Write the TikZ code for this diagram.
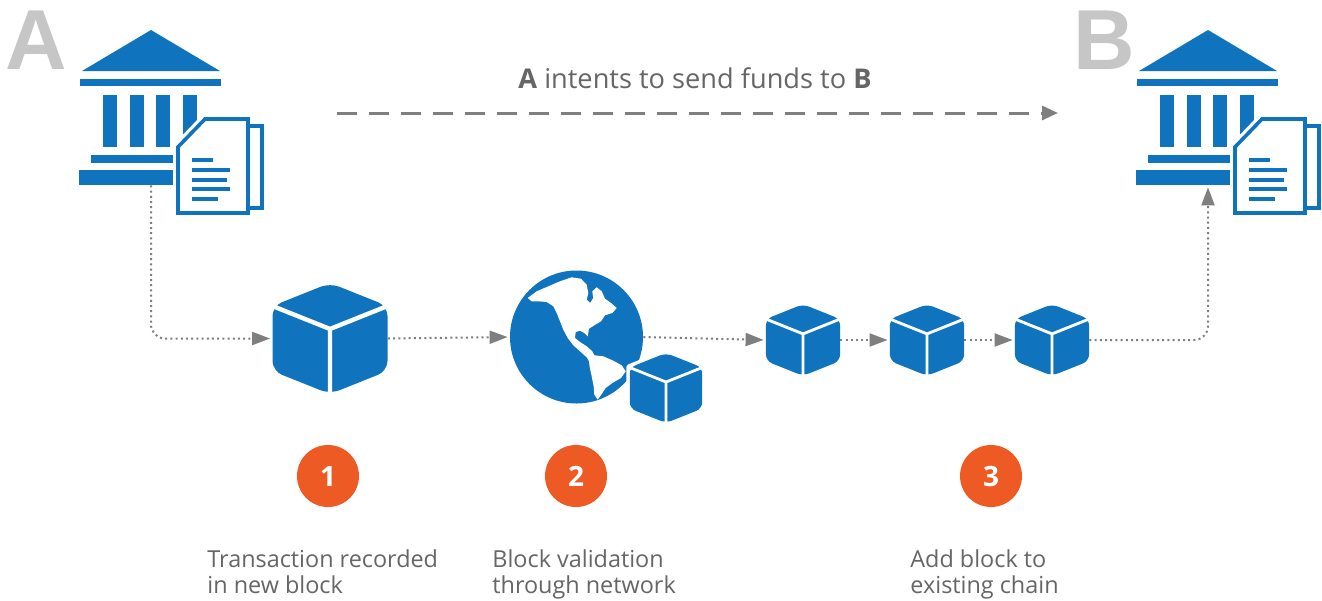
\documentclass[tikz,border=0pt]{standalone}
\usepackage{fontspec}
\setmainfont{Open Sans}
\newfontfamily\letterfont{Liberation Sans}
\usetikzlibrary{arrows.meta}
\definecolor{bankblue}{HTML}{0F74BD}
\definecolor{stepor}{HTML}{EE5A24}
\definecolor{flowgray}{HTML}{7F7F7F}
\definecolor{notegray}{HTML}{666666}
\definecolor{lettergray}{HTML}{C6C6C6}
\tikzset{
  pics/bank/.style={code={
    \fill[bankblue] (-69,41) -- (0,0) -- (69,41) -- cycle;
    \fill[bankblue] (-71,49) rectangle (70,56);
    \foreach \c in {-48,-21.3,5.3,32} {
      \fill[bankblue] (\c,65) rectangle ++(14,52);
    }
    \fill[bankblue] (-60,125) rectangle (60,133);
    \fill[bankblue] (-72,140) rectangle (70,155);
    \draw[white, fill=white, line width=5pt] (54,89) -- (97,89) -- (97,183) -- (27,183) -- (27,117) -- cycle;
    \draw[bankblue, line width=1.8pt] (97,96) -- (111,96) -- (111,178) -- (97,178);
    \draw[bankblue, line width=1.8pt] (54,89) -- (97,89) -- (97,183) -- (27,183) -- (27,117) -- cycle;
    \foreach \l/\e in {130/62,140/79,150/76,159/79,169/67} {
      \draw[bankblue, line width=2pt] (41,\l) -- (\e,\l);
    }
  }},
  pics/block/.style={code={
    \begin{scope}[scale=#1]
      \fill[bankblue, rounded corners=#1*5pt] (0,-55.5) -- (57.5,-32.5) -- (57.5,32.5) -- (0,55.5) -- (-57.5,32.5) -- (-57.5,-32.5) -- cycle;
      \draw[white, line width=#1*2.2pt] (-57.5,-32.5) -- (0,-9.5) -- (57.5,-32.5) (0,-9.5) -- (0,55.5);
    \end{scope}
  }},
  pics/blockhalo/.style={code={
    \begin{scope}[scale=#1]
      \draw[white, fill=white, line width=3.5pt, line join=round] (0,-55.5) -- (57.5,-32.5) -- (57.5,32.5) -- (0,55.5) -- (-57.5,32.5) -- (-57.5,-32.5) -- cycle;
    \end{scope}
  }}
}
\begin{document}
\begin{tikzpicture}[x=0.5pt, y=-0.5pt,
    flow/.style={draw=flowgray, line width=1pt, dash pattern=on 1pt off 1.6pt, rounded corners=7pt, shorten >=1pt, -{Triangle[length=9pt,width=6.5pt]}},
    send/.style={draw=flowgray, line width=1.5pt, dash pattern=on 10pt off 6pt, -{Triangle[length=8pt,width=7pt]}},
    bankbox/.style={inner sep=0, minimum width=71pt, minimum height=77.5pt},
    bigbox/.style={inner sep=0, minimum width=57.5pt, minimum height=55.5pt},
    chainbox/.style={inner sep=0, minimum width=37pt, minimum height=36pt},
    stepnum/.style={circle, fill=stepor, text=white, inner sep=0, minimum size=31pt, font=\fontsize{14}{14}\selectfont\bfseries},
    stepnote/.style={anchor=north west, inner sep=0, align=left, text=notegray, font=\fontsize{11.7}{13}\selectfont},
    bankletter/.style={inner sep=0, text=lettergray, font=\letterfont\bfseries\fontsize{42.6}{42.6}\selectfont}]
  \fill[white] (0,0) rectangle (1322,600);
  \useasboundingbox (0,0) rectangle (1322,600);

  \pic at (151,30) {bank};
  \pic at (1208,30) {bank};
  \node[bankbox] (bankA) at (151,107.5) {};
  \node[bankbox] (bankB) at (1208,107.5) {};
  \node[bankletter] (letA) at (36.5,40.5) {A};
  \node[bankletter] (letB) at (1104.5,40.5) {B};

  \node[anchor=base, inner sep=0, text=notegray, font=\fontsize{13.6}{15}\selectfont] (intent) at (695,88) {\textbf{A} intents to send funds to \textbf{B}};
  \coordinate (sendfrom) at (337,113);
  \coordinate (sendto) at (1058,113);
  \draw[send] (sendfrom) -- (sendto);

  \node[bigbox] (blk1) at (330,338.5) {};
  \pic at (blk1) {block=1};

  \node[circle, fill=bankblue, inner sep=0, minimum size=66.5pt] (globe) at (576.5,337) {};
  \begin{scope}
    \clip (globe.center) circle[radius=33pt];
    \fill[white]
      (527.7,298) -- (536.7,291.3) -- (548.3,286.3) -- (560,281.3) -- (571.7,277.3) -- (581,278.7)
      -- (586.7,284.7) -- (588.3,293) -- (586.7,299.7) -- (590,303) -- (593.3,298) -- (592.3,291.3)
      -- (596.7,287.3) -- (601.7,291.3) -- (605,298.7) -- (611,303) -- (616.7,308) -- (612.3,313)
      -- (605,315.3) -- (601,321.3) -- (594.3,325.3) -- (589,328.7) -- (587.7,336.3) -- (584.3,333)
      -- (580,330.7) -- (575.7,332) -- (575,338) -- (580,342) -- (586.7,346.3) -- (592.3,351.3)
      -- (594.3,355.3) -- (603.3,356.3) -- (613.3,360.7) -- (621.7,365.3) -- (625.7,371.3) -- (621,378)
      -- (612.3,383) -- (605.7,388) -- (601.7,394) -- (597.7,399.7) -- (594.3,394.7) -- (593.7,386.3)
      -- (591.7,376.3) -- (589.7,367.3) -- (589,361.3) -- (586.7,357.3) -- (580,351.3) -- (573.3,345.3)
      -- (567.7,338) -- (563.3,329.7) -- (560,321.3) -- (556.7,313) -- (553.3,306.3) -- (546.7,302)
      -- (538.3,301.3) -- (531.7,301.3) -- cycle;
  \end{scope}
  \node[chainbox] (blk2) at (666,388) {};
  \pic at (blk2) {blockhalo=0.63};
  \pic at (blk2) {block=0.63};

  \foreach \i/\x in {3/803,4/927,5/1052} {
    \node[chainbox] (blk\i) at (\x,340) {};
    \pic at (blk\i) {block=0.645};
  }

  \draw[flow] (bankA.south) |- (blk1.west);
  \draw[flow] (blk1.east) -- (globe.west);
  \draw[flow] (globe.east) -- (blk3.west);
  \draw[flow] (blk3.east) -- (blk4.west);
  \draw[flow] (blk4.east) -- (blk5.west);
  \draw[flow] (blk5.east) -| (bankB.south);

  \foreach \i/\x in {1/328,2/576,3/991} {
    \node[stepnum] (num\i) at (\x,476) {\i};
  }
  \node[stepnote] (note1) at (207,549) {Transaction recorded\\in new block};
  \node[stepnote] (note2) at (492,549) {Block validation\\through network};
  \node[stepnote] (note3) at (910,549) {Add block to\\existing chain};
\end{tikzpicture}
\end{document}
